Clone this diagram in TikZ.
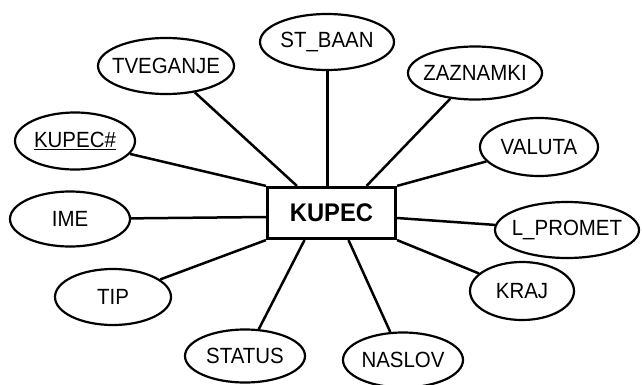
\documentclass[tikz,border=0pt]{standalone}
\usepackage{fontspec}
\setmainfont[FakeStretch=0.93]{Liberation Sans}
\usetikzlibrary{shapes.geometric,calc}
\begin{document}
\begin{tikzpicture}[x=1pt,y=-1pt,
  attr/.style 2 args={ellipse, draw, line width=2.2pt, inner sep=0pt,
    minimum width=#1pt, minimum height=#2pt,
    font=\fontsize{22}{26}\selectfont},
  entity/.style={draw, line width=3.2pt, inner sep=0pt,
    minimum width=128pt, minimum height=51pt,
    font=\fontsize{25.5}{30}\selectfont\bfseries},
  link/.style={line width=2.5pt}]
\useasboundingbox (0,0) rectangle (642,385);

% entity
\node[entity] (k) at (331.5,213) {KUPEC};

% attributes
\node[attr={134}{56}] (stbaan)  at (327,42)  {\makebox[0pt]{ST\_BAAN}};
\node[attr={136}{56}] (tveg)    at (166,66)  {\makebox[0pt]{TVEGANJE}};
\node[attr={134}{53}] (zazn)    at (475,73)  {\makebox[0pt]{ZAZNAMKI}};
\node[attr={118}{58}] (valuta)  at (539,147) {\makebox[0pt]{VALUTA}};
\node[attr={144}{56}] (lprom)   at (567,230) {\makebox[0pt]{L\_PROMET}};
\node[attr={104}{58}] (kraj)    at (522,291) {\makebox[0pt]{KRAJ}};
\node[attr={120}{55}] (naslov)  at (403,360) {\makebox[0pt]{NASLOV}};
\node[attr={120}{53}] (status)  at (245,356) {\makebox[0pt]{STATUS}};
\node[attr={116}{56}] (tip)     at (113,297) {\makebox[0pt]{TIP}};
\node[attr={120}{55}] (ime)     at (70,219)  {\makebox[0pt]{IME}};
\node[attr={120}{57}] (kupecnr) at (75,141)  {\makebox[0pt]{\underline{KUPEC\#}}};

% connection points on the entity box
\coordinate (pTveg)   at ($(k.north west)+(31,0)$);
\coordinate (pStbaan) at ($(k.north)+(-4,0)$);
\coordinate (pZazn)   at ($(k.north)+(35,0)$);
\coordinate (pIme)    at ($(k.west)+(0,4)$);
\coordinate (pLprom)  at ($(k.east)+(0,5)$);
\coordinate (pNaslov) at ($(k.south)+(17,0)$);
\coordinate (pStatus) at ($(k.south)+(-27,0)$);

% connectors
\draw[link] (k.north west) -- (kupecnr);
\draw[link] (pIme) -- (ime);
\draw[link] (k.south west) -- (tip);
\draw[link] (pTveg) -- (tveg);
\draw[link] (pStbaan) -- (pStbaan |- stbaan.south);
\draw[link] (pZazn) -- (zazn);
\draw[link] (k.north east) -- (valuta);
\draw[link] (pLprom) -- (lprom);
\draw[link] (k.south east) -- (kraj);
\draw[link] (pNaslov) -- (naslov);
\draw[link] (pStatus) -- (status);
\end{tikzpicture}
\end{document}
